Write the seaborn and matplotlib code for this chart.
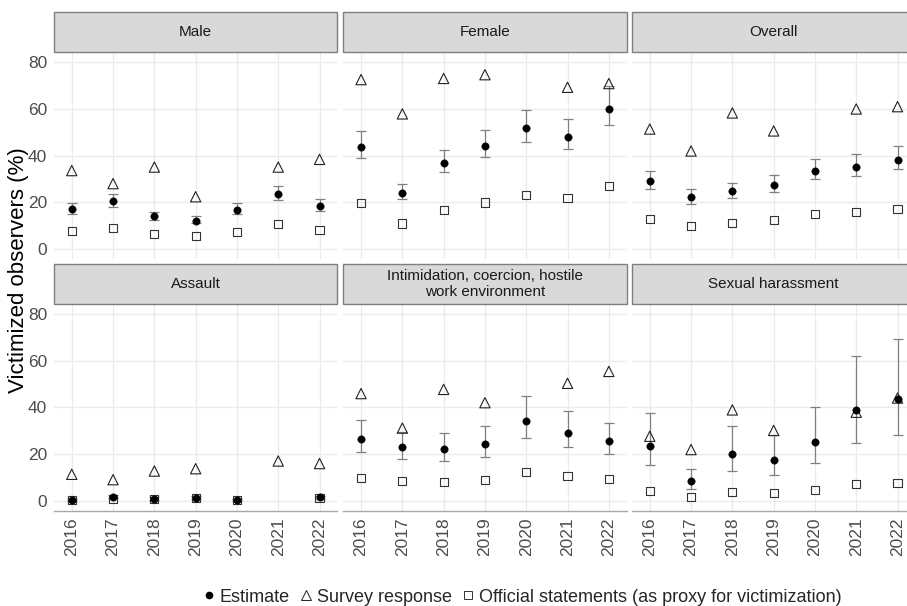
import numpy as np
import pandas as pd
import matplotlib
matplotlib.use("Agg")
import matplotlib.pyplot as plt
from matplotlib.patches import Rectangle
from matplotlib.lines import Line2D
import seaborn as sns

nan = np.nan

years = [2016, 2017, 2018, 2019, 2020, 2021, 2022]
panels = ["Male", "Female", "Overall", "Assault",
          "Intimidation, coercion, hostile\nwork environment", "Sexual harassment"]

# Estimate with interval bounds, survey response and official statements (%)
male_est = [17.0, 20.4, 14.3, 12.1, 16.7, 23.6, 18.6]
male_lo = [15.0, 18.0, 12.3, 11.1, 15.0, 20.9, 16.1]
male_hi = [19.6, 23.4, 16.0, 14.0, 19.6, 27.1, 21.3]
male_survey = [33.6, 28.0, 35.1, 22.4, nan, 35.1, 38.4]
male_official = [7.6, 9.1, 6.3, 5.4, 7.4, 10.6, 8.3]

female_est = [43.9, 24.1, 36.9, 44.1, 51.9, 48.1, 60.0]
female_lo = [38.9, 21.3, 32.9, 39.3, 45.7, 43.0, 53.0]
female_hi = [50.4, 27.7, 42.3, 51.1, 59.6, 55.8, 70.0]
female_survey = [72.6, 57.9, 73.1, 74.7, nan, 69.3, 70.9]
female_official = [19.7, 10.9, 16.6, 19.9, 23.3, 21.7, 27.1]

overall_est = [29.0, 22.1, 24.9, 27.4, 33.6, 35.1, 38.3]
overall_lo = [25.9, 19.3, 21.9, 24.3, 29.9, 31.3, 34.3]
overall_hi = [33.6, 25.6, 28.4, 31.6, 38.7, 40.6, 44.0]
overall_survey = [51.4, 42.0, 58.3, 50.6, nan, 60.0, 61.0]
overall_official = [13.0, 10.0, 11.1, 12.3, 15.1, 15.9, 17.3]

assault_est = [0.3, 1.7, 0.9, 1.3, 0.3, nan, 1.4]
assault_lo = [0.0, 1.0, 0.3, 0.6, 0.0, nan, 0.7]
assault_hi = [0.8, 2.5, 1.5, 2.0, 0.8, nan, 2.2]
assault_survey = [11.3, 9.0, 12.7, 13.7, nan, 17.0, 15.9]
assault_official = [0.3, 0.9, 0.7, 1.0, 0.3, nan, 1.0]

intim_est = [26.3, 22.8, 22.0, 24.3, 34.0, 29.1, 25.4]
intim_lo = [20.7, 17.7, 17.0, 18.7, 26.9, 22.8, 20.0]
intim_hi = [34.7, 29.6, 29.1, 31.9, 45.0, 38.4, 33.4]
intim_survey = [45.9, 31.1, 47.7, 42.0, nan, 50.3, 55.4]
intim_official = [9.7, 8.4, 8.0, 8.9, 12.4, 10.7, 9.3]

sexual_est = [23.6, 8.6, 20.0, 17.3, 25.0, 38.9, 43.4]
sexual_lo = [15.1, 5.1, 12.9, 11.0, 16.0, 24.9, 28.0]
sexual_hi = [37.6, 13.5, 31.9, 28.0, 40.1, 62.0, 69.4]
sexual_survey = [27.6, 21.9, 38.9, 30.1, nan, 37.9, 44.0]
sexual_official = [4.1, 1.4, 3.6, 3.1, 4.6, 7.1, 7.7]

series = [
    (male_est, male_lo, male_hi, male_survey, male_official),
    (female_est, female_lo, female_hi, female_survey, female_official),
    (overall_est, overall_lo, overall_hi, overall_survey, overall_official),
    (assault_est, assault_lo, assault_hi, assault_survey, assault_official),
    (intim_est, intim_lo, intim_hi, intim_survey, intim_official),
    (sexual_est, sexual_lo, sexual_hi, sexual_survey, sexual_official),
]

rows = []
for name, (est, lo, hi, sv, of) in zip(panels, series):
    for i, yr in enumerate(years):
        rows.append(dict(panel=name, year=yr, estimate=est[i], lower=lo[i],
                         upper=hi[i], survey=sv[i], official=of[i]))
df = pd.DataFrame(rows)

sns.set_theme(style="white")
plt.rcParams["font.family"] = ["Liberation Sans", "DejaVu Sans"]

W, H = 907, 606
fig = plt.figure(figsize=(W / 100, H / 100), dpi=100)

col_left = [54, 343.3, 632]
col_w = 283.3
row_top = [52.3, 304]
row_h = 206.7
strip_h = 40

grid_c = "#EBEBEB"
tick_c = "#4D4D4D"
err_c = "#808080"

for k, name in enumerate(panels):
    r, c = divmod(k, 3)
    left = col_left[c]
    top = row_top[r]
    ax = fig.add_axes([left / W, 1 - (top + row_h) / H, col_w / W, row_h / H])
    d = df[df["panel"] == name]

    ax.set_xlim(2016 - 0.43, 2022 + 0.43)
    ax.set_ylim(-4.3, 84.3)
    ax.set_xticks(years)
    ax.set_yticks([0, 20, 40, 60, 80])
    ax.grid(True, color=grid_c, lw=1.0)
    ax.set_axisbelow(True)
    for s in ax.spines.values():
        s.set_visible(False)

    de = d.dropna(subset=["estimate"])
    ax.errorbar(de["year"], de["estimate"],
                yerr=[de["estimate"] - de["lower"], de["upper"] - de["estimate"]],
                fmt="none", ecolor=err_c, elinewidth=0.9, capsize=3.6,
                capthick=0.9, zorder=2)

    sns.scatterplot(data=d, x="year", y="survey", ax=ax, marker="^", s=55,
                    facecolor="none", edgecolor="#222222", linewidth=0.8,
                    zorder=3, legend=False)
    sns.scatterplot(data=d, x="year", y="official", ax=ax, marker="s", s=34,
                    facecolor="none", edgecolor="#333333", linewidth=0.8,
                    zorder=3, legend=False)
    sns.scatterplot(data=d, x="year", y="estimate", ax=ax, marker="o", s=28,
                    color="black", edgecolor="black", linewidth=0.4,
                    zorder=4, legend=False)
    ax.set_xlabel("")
    ax.set_ylabel("")

    if c == 0:
        ax.tick_params(axis="y", length=3, width=0.8, color="#333333",
                       labelsize=12.5, labelcolor=tick_c, pad=2)
    else:
        ax.tick_params(axis="y", length=0, labelleft=False)
    if r == 1:
        ax.spines["bottom"].set_visible(True)
        ax.spines["bottom"].set_color("#A8A8A8")
        ax.spines["bottom"].set_linewidth(1.0)
        ax.set_xticks(years)
        ax.set_xticklabels([str(y) for y in years], rotation=90)
        ax.tick_params(axis="x", length=3, width=0.8, color="#333333",
                       labelsize=12.5, labelcolor=tick_c, pad=2)
    else:
        ax.tick_params(axis="x", length=0, labelbottom=False)

    # facet strip
    sh = strip_h / row_h
    ax.add_patch(Rectangle((0, 1), 1, sh, transform=ax.transAxes,
                           facecolor="#D9D9D9", edgecolor="#7F7F7F",
                           lw=1.0, clip_on=False, zorder=5))
    ax.text(0.5, 1 + sh / 2, name, transform=ax.transAxes, ha="center",
            va="center", fontsize=11, color="#1A1A1A", zorder=6,
            linespacing=1.1)

fig.text(19 / W, 1 - 270 / H, "Victimized observers (%)", rotation=90,
         ha="center", va="center", fontsize=16, color="black")

handles = [
    Line2D([], [], ls="none", marker="o", markersize=4.5, color="black"),
    Line2D([], [], ls="none", marker="^", markersize=7, markerfacecolor="none",
           markeredgecolor="#222222", markeredgewidth=0.7),
    Line2D([], [], ls="none", marker="s", markersize=5.5, markerfacecolor="none",
           markeredgecolor="#333333", markeredgewidth=0.7),
]
labels = ["Estimate", "Survey response",
          "Official statements (as proxy for victimization)"]
fig.legend(handles, labels, loc="center", bbox_to_anchor=(522 / W, 1 - 597 / H),
           ncol=3, frameon=False, fontsize=13, handletextpad=0.25,
           columnspacing=0.55, handlelength=0.7, borderpad=0)

fig.savefig("out.png", dpi=100)
